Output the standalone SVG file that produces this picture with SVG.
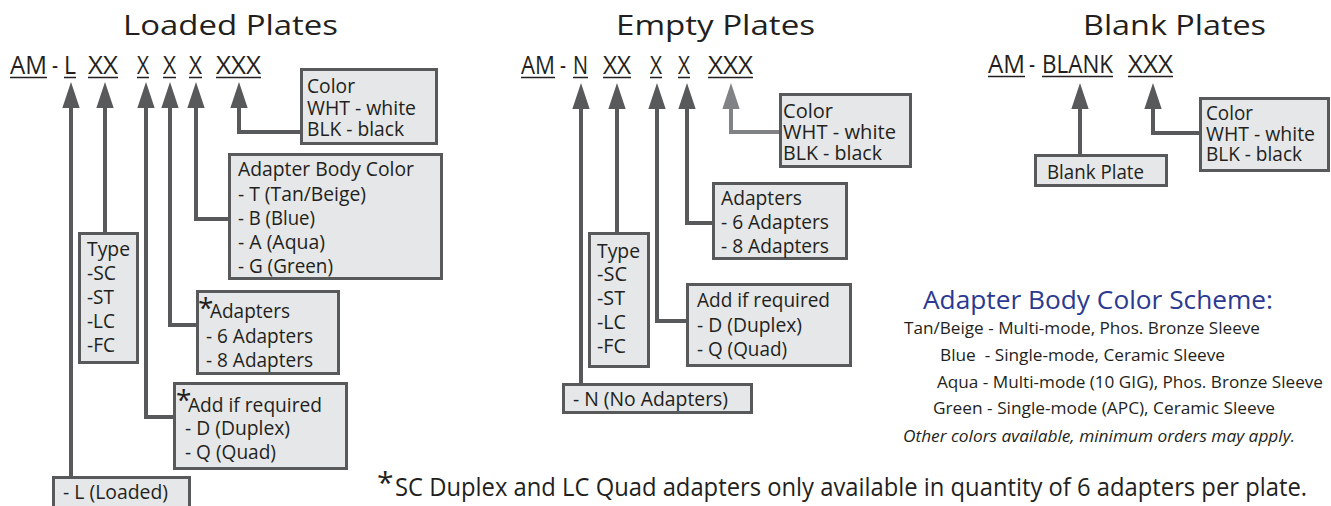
<svg xmlns="http://www.w3.org/2000/svg" width="1331" height="506" viewBox="0 0 1331 506">
<style>
.t{font-family:"Open Sans","Liberation Sans",sans-serif;fill:#231f20}
.h{font-size:27px}
.k{font-size:25px}
.b{font-size:20px}
.s{font-size:16px}
.box{fill:#e6e7e8;stroke:#58595b;stroke-width:3}
.c{fill:none;stroke:#58595b;stroke-width:4;marker-end:url(#ah)}
.cl{fill:none;stroke:#808285;stroke-width:4;marker-end:url(#ahl)}
.u{stroke:#231f20;stroke-width:1.5}
</style>
<defs>
<marker id="ah" markerUnits="userSpaceOnUse" markerWidth="26" markerHeight="18" refX="0" refY="8" orient="auto" viewBox="0 0 24 16"><path d="M0,0 L24,8 L0,16 z" fill="#58595b"/></marker>
<marker id="ahl" markerUnits="userSpaceOnUse" markerWidth="26" markerHeight="18" refX="0" refY="8" orient="auto" viewBox="0 0 24 16"><path d="M0,0 L24,8 L0,16 z" fill="#808285"/></marker>
</defs>

<g id="connectors">
<path class="c" d="M71,476 V108"/>
<path class="c" d="M105,232 V108"/>
<path class="c" d="M173,417 H146 V108"/>
<path class="c" d="M196,325 H170 V108"/>
<path class="c" d="M228,219 H196 V108"/>
<path class="c" d="M300,132 H239 V108"/>
<path class="c" d="M581,383 V109"/>
<path class="c" d="M617,232 V109"/>
<path class="c" d="M686,321 H657 V109"/>
<path class="c" d="M712,223 H687 V109"/>
<path class="cl" d="M779,132 H731 V109"/>
<path class="c" d="M1080,154 V109"/>
<path class="c" d="M1199,133 H1153 V109"/>
</g>

<g id="loaded-title">
<text class="t h" x="123" y="35" textLength="215" lengthAdjust="spacingAndGlyphs">Loaded Plates</text>
<text class="t k" x="10" y="74" textLength="37" lengthAdjust="spacingAndGlyphs">AM</text>
<text class="t k" x="52" y="74" textLength="6" lengthAdjust="spacingAndGlyphs">-</text>
<text class="t k" x="64" y="74" textLength="12" lengthAdjust="spacingAndGlyphs">L</text>
<text class="t k" x="88" y="74" textLength="30" lengthAdjust="spacingAndGlyphs">XX</text>
<text class="t k" x="137" y="74" textLength="12" lengthAdjust="spacingAndGlyphs">X</text>
<text class="t k" x="163" y="74" textLength="13" lengthAdjust="spacingAndGlyphs">X</text>
<text class="t k" x="189" y="74" textLength="13" lengthAdjust="spacingAndGlyphs">X</text>
<text class="t k" x="216" y="74" textLength="45" lengthAdjust="spacingAndGlyphs">XXX</text>
<path class="u" d="M10,77.5h37M64,77.5h12M88,77.5h30M137,77.5h12M163,77.5h13M189,77.5h13M216,77.5h45"/>
</g>

<g id="loaded-color">
<rect class="box" x="301.5" y="69.5" width="135" height="74"/>
<text class="t b" x="307" y="93" textLength="48" lengthAdjust="spacingAndGlyphs">Color</text>
<text class="t b" x="307" y="115" textLength="109" lengthAdjust="spacingAndGlyphs">WHT - white</text>
<text class="t b" x="307" y="136" textLength="97" lengthAdjust="spacingAndGlyphs">BLK - black</text>
</g>

<g id="loaded-body-color">
<rect class="box" x="229.5" y="154.5" width="212" height="124"/>
<text class="t b" x="238" y="176" textLength="176" lengthAdjust="spacingAndGlyphs">Adapter Body Color</text>
<text class="t b" x="238" y="201" textLength="128" lengthAdjust="spacingAndGlyphs">- T (Tan/Beige)</text>
<text class="t b" x="238" y="225" textLength="77" lengthAdjust="spacingAndGlyphs">- B (Blue)</text>
<text class="t b" x="238" y="249" textLength="87" lengthAdjust="spacingAndGlyphs">- A (Aqua)</text>
<text class="t b" x="238" y="273" textLength="95" lengthAdjust="spacingAndGlyphs">- G (Green)</text>
</g>

<g id="loaded-type">
<rect class="box" x="79.5" y="233.5" width="58" height="129"/>
<text class="t b" x="87" y="256" textLength="43" lengthAdjust="spacingAndGlyphs">Type</text>
<text class="t b" x="87" y="280" textLength="29" lengthAdjust="spacingAndGlyphs">-SC</text>
<text class="t b" x="87" y="304" textLength="27" lengthAdjust="spacingAndGlyphs">-ST</text>
<text class="t b" x="87" y="328" textLength="28" lengthAdjust="spacingAndGlyphs">-LC</text>
<text class="t b" x="87" y="352" textLength="28" lengthAdjust="spacingAndGlyphs">-FC</text>
</g>

<g id="loaded-adapters">
<rect class="box" x="197.5" y="291.5" width="141" height="82"/>
<text class="t" x="198" y="318" font-size="28">*</text>
<text class="t b" x="210" y="318" textLength="80" lengthAdjust="spacingAndGlyphs">Adapters</text>
<text class="t b" x="206" y="343" textLength="107" lengthAdjust="spacingAndGlyphs">- 6 Adapters</text>
<text class="t b" x="206" y="367" textLength="107" lengthAdjust="spacingAndGlyphs">- 8 Adapters</text>
</g>

<g id="loaded-add">
<rect class="box" x="174.5" y="383.5" width="172" height="85"/>
<text class="t" x="176" y="410" font-size="28">*</text>
<text class="t b" x="188" y="412" textLength="134" lengthAdjust="spacingAndGlyphs">Add if required</text>
<text class="t b" x="185" y="435" textLength="105" lengthAdjust="spacingAndGlyphs">- D (Duplex)</text>
<text class="t b" x="185" y="459" textLength="91" lengthAdjust="spacingAndGlyphs">- Q (Quad)</text>
</g>

<g id="loaded-l">
<rect class="box" x="53.5" y="477.5" width="136" height="40"/>
<text class="t b" x="63" y="499" textLength="105" lengthAdjust="spacingAndGlyphs">- L (Loaded)</text>
</g>

<g id="empty-title">
<text class="t h" x="616" y="35" textLength="199" lengthAdjust="spacingAndGlyphs">Empty Plates</text>
<text class="t k" x="521" y="74" textLength="34" lengthAdjust="spacingAndGlyphs">AM</text>
<text class="t k" x="560" y="74" textLength="6" lengthAdjust="spacingAndGlyphs">-</text>
<text class="t k" x="573" y="74" textLength="15" lengthAdjust="spacingAndGlyphs">N</text>
<text class="t k" x="603" y="74" textLength="28" lengthAdjust="spacingAndGlyphs">XX</text>
<text class="t k" x="650" y="74" textLength="12" lengthAdjust="spacingAndGlyphs">X</text>
<text class="t k" x="678" y="74" textLength="12" lengthAdjust="spacingAndGlyphs">X</text>
<text class="t k" x="708" y="74" textLength="45" lengthAdjust="spacingAndGlyphs">XXX</text>
<path class="u" d="M521,77.5h34M573,77.5h15M603,77.5h28M650,77.5h12M678,77.5h12M708,77.5h45"/>
</g>

<g id="empty-color">
<rect class="box" x="780.5" y="94.5" width="130" height="72"/>
<text class="t b" x="783" y="118" textLength="50" lengthAdjust="spacingAndGlyphs">Color</text>
<text class="t b" x="783" y="139" textLength="113" lengthAdjust="spacingAndGlyphs">WHT - white</text>
<text class="t b" x="783" y="160" textLength="99" lengthAdjust="spacingAndGlyphs">BLK - black</text>
</g>

<g id="empty-adapters">
<rect class="box" x="713.5" y="183.5" width="133" height="75"/>
<text class="t b" x="721" y="205" textLength="81" lengthAdjust="spacingAndGlyphs">Adapters</text>
<text class="t b" x="721" y="229" textLength="108" lengthAdjust="spacingAndGlyphs">- 6 Adapters</text>
<text class="t b" x="721" y="253" textLength="108" lengthAdjust="spacingAndGlyphs">- 8 Adapters</text>
</g>

<g id="empty-type">
<rect class="box" x="589.5" y="233.5" width="59" height="133"/>
<text class="t b" x="597" y="258" textLength="43" lengthAdjust="spacingAndGlyphs">Type</text>
<text class="t b" x="597" y="281" textLength="30" lengthAdjust="spacingAndGlyphs">-SC</text>
<text class="t b" x="597" y="305" textLength="28" lengthAdjust="spacingAndGlyphs">-ST</text>
<text class="t b" x="597" y="329" textLength="29" lengthAdjust="spacingAndGlyphs">-LC</text>
<text class="t b" x="597" y="353" textLength="29" lengthAdjust="spacingAndGlyphs">-FC</text>
</g>

<g id="empty-add">
<rect class="box" x="687.5" y="284.5" width="163" height="81"/>
<text class="t b" x="697" y="307" textLength="133" lengthAdjust="spacingAndGlyphs">Add if required</text>
<text class="t b" x="697" y="332" textLength="105" lengthAdjust="spacingAndGlyphs">- D (Duplex)</text>
<text class="t b" x="697" y="356" textLength="90" lengthAdjust="spacingAndGlyphs">- Q (Quad)</text>
</g>

<g id="empty-n">
<rect class="box" x="563.5" y="384.5" width="188" height="28"/>
<text class="t b" x="573" y="406" textLength="155" lengthAdjust="spacingAndGlyphs">- N (No Adapters)</text>
</g>

<g id="blank-title">
<text class="t h" x="1083" y="35" textLength="183" lengthAdjust="spacingAndGlyphs">Blank Plates</text>
<text class="t k" x="988" y="73" textLength="37" lengthAdjust="spacingAndGlyphs">AM</text>
<text class="t k" x="1029" y="73" textLength="6" lengthAdjust="spacingAndGlyphs">-</text>
<text class="t k" x="1042" y="73" textLength="71" lengthAdjust="spacingAndGlyphs">BLANK</text>
<text class="t k" x="1128" y="73" textLength="45" lengthAdjust="spacingAndGlyphs">XXX</text>
<path class="u" d="M988,76.5h37M1042,76.5h71M1128,76.5h45"/>
</g>

<g id="blank-plate">
<rect class="box" x="1035.5" y="155.5" width="131" height="30"/>
<text class="t b" x="1047" y="179" textLength="97" lengthAdjust="spacingAndGlyphs">Blank Plate</text>
</g>

<g id="blank-color">
<rect class="box" x="1200.5" y="98.5" width="128" height="72"/>
<text class="t b" x="1206" y="120" textLength="47" lengthAdjust="spacingAndGlyphs">Color</text>
<text class="t b" x="1206" y="141" textLength="109" lengthAdjust="spacingAndGlyphs">WHT - white</text>
<text class="t b" x="1206" y="161" textLength="96" lengthAdjust="spacingAndGlyphs">BLK - black</text>
</g>

<g id="color-scheme">
<text class="t" x="923" y="309" font-size="25" style="fill:#2b3990" textLength="350" lengthAdjust="spacingAndGlyphs">Adapter Body Color Scheme:</text>
<text class="t s" x="904" y="334" textLength="356" lengthAdjust="spacingAndGlyphs">Tan/Beige - Multi-mode, Phos. Bronze Sleeve</text>
<text class="t s" x="940" y="361" textLength="285" lengthAdjust="spacingAndGlyphs" xml:space="preserve">Blue  - Single-mode, Ceramic Sleeve</text>
<text class="t s" x="937" y="388" textLength="386" lengthAdjust="spacingAndGlyphs">Aqua - Multi-mode (10 GIG), Phos. Bronze Sleeve</text>
<text class="t s" x="933" y="414" textLength="342" lengthAdjust="spacingAndGlyphs">Green - Single-mode (APC), Ceramic Sleeve</text>
<text class="t" x="903" y="442" font-size="17" font-style="italic" textLength="392" lengthAdjust="spacingAndGlyphs">Other colors available, minimum orders may apply.</text>
</g>

<g id="footnote">
<text class="t" x="377" y="493" font-size="30">*</text>
<text class="t" x="395" y="496" font-size="25" textLength="912" lengthAdjust="spacingAndGlyphs">SC Duplex and LC Quad adapters only available in quantity of 6 adapters per plate.</text>
</g>
</svg>
